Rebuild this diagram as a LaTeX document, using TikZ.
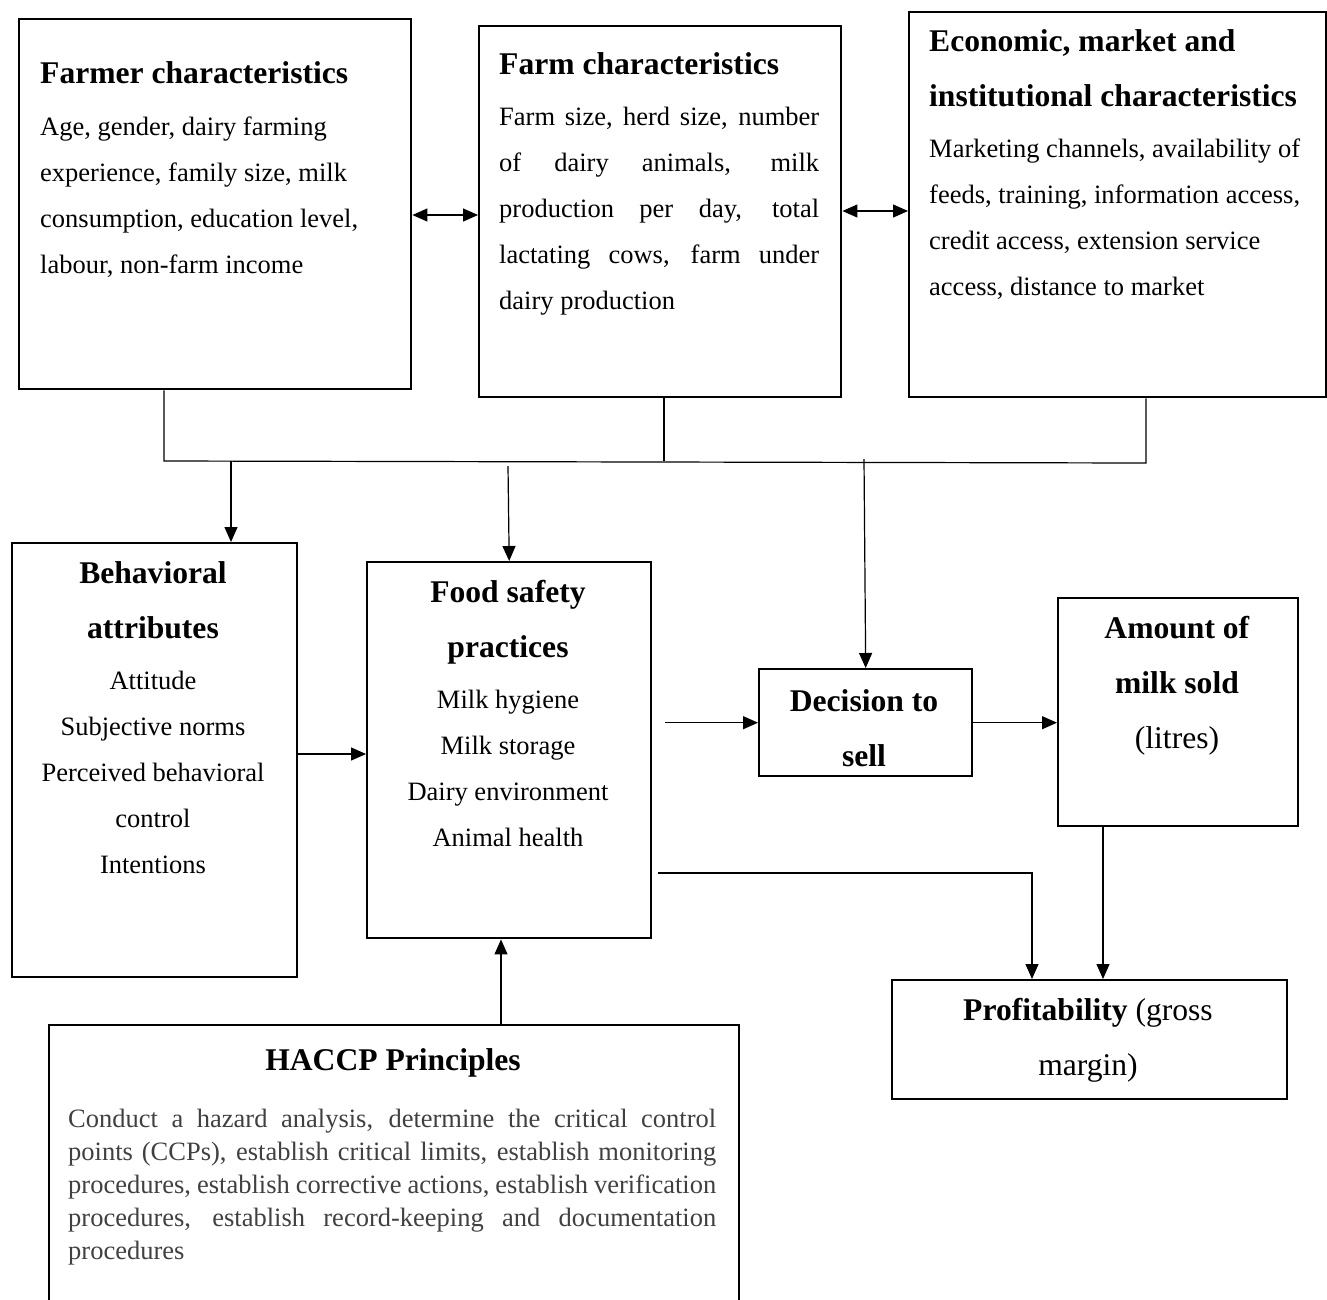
\documentclass[tikz,border=0pt]{standalone}
\usepackage{fontspec}
\setmainfont{Liberation Serif}
\usepackage{tikz}
\usetikzlibrary{arrows.meta,positioning,calc}
\definecolor{haccpc}{HTML}{404040}
\newcommand{\ttlfont}{\fontsize{31.6}{55}\selectfont\bfseries}
\newcommand{\bodyfont}{\fontsize{26.5}{46}\selectfont}
\newcommand{\bigfont}{\fontsize{31.6}{55}\selectfont}
\newcommand{\jst}[1]{{\spaceskip=0pt\makebox[\hsize][s]{#1}}}
\tikzset{
  box/.style={draw,line width=2.4pt,inner sep=0pt,anchor=north west},
  plain/.style={inner sep=0pt,execute at begin node={\spaceskip=\fontdimen2\font\xspaceskip=0pt}},
  ttl/.style={plain,font=\ttlfont},
  txt/.style={plain,font=\bodyfont},
  ln/.style={line width=1.2pt},
  ar/.style={-{Triangle[length=15pt,width=13pt]},line width=1.2pt},
  dar/.style={{Triangle[length=15pt,width=13pt]}-{Triangle[length=15pt,width=13pt]},line width=1.2pt}
}

\begin{document}
\begin{tikzpicture}[x=1pt,y=-1pt]
\path[use as bounding box,clip] (0,0) rectangle (1327,1299);
% boxes
\node[box,minimum width=392pt,minimum height=370pt] (farmer) at (18,18) {};
\node[box,minimum width=362pt,minimum height=371pt] (farm) at (478,25) {};
\node[box,minimum width=417pt,minimum height=385pt] (econ) at (908,11) {};
\node[box,minimum width=285pt,minimum height=434pt] (behav) at (11,542) {};
\node[box,minimum width=284pt,minimum height=376pt] (food) at (366,561) {};
\node[box,minimum width=213pt,minimum height=107pt] (decide) at (758,668) {};
\node[box,minimum width=240pt,minimum height=228pt] (amount) at (1057,597) {};
\node[box,minimum width=395pt,minimum height=119pt] (profit) at (891,979) {};
\node[box,minimum width=690pt,minimum height=300pt] (haccp) at (48,1024) {};
% texts
\node[ttl,anchor=base west] (farmerT) at (40,83) {Farmer characteristics};
\node[txt,anchor=base west,text width=340pt,align=left] (farmerB) at (40,135)
  {Age, gender, dairy farming\\experience, family size, milk\\consumption, education level,\\labour, non-farm income};
\node[ttl,anchor=base west] (farmT) at (499,74) {Farm characteristics};
\node[txt,anchor=base west,text width=320pt,align=left] (farmB) at (499,125)
  {\jst{Farm size, herd size, number}\\\jst{of dairy animals, milk}\\\jst{production per day, total}\\\jst{lactating cows, farm under}\\dairy production};
\node[ttl,anchor=base west,text width=390pt,align=left] (econT) at (929,51)
  {Economic, market and\\institutional characteristics};
\node[txt,anchor=base west,text width=385pt,align=left] (econB) at (929,157)
  {Marketing channels, availability of\\feeds, training, information access,\\credit access, extension service\\access, distance to market};
\node[ttl,anchor=base,text width=270pt,align=center] (behavT) at (153,583) {Behavioral\\attributes};
\node[txt,anchor=base,text width=270pt,align=center] (behavB) at (153,689)
  {Attitude\\Subjective norms\\Perceived behavioral\\control\\Intentions};
\node[ttl,anchor=base,text width=270pt,align=center] (foodT) at (508,602) {Food safety\\practices};
\node[txt,anchor=base,text width=270pt,align=center] (foodB) at (508,708)
  {Milk hygiene\\Milk storage\\Dairy environment\\Animal health};
\node[ttl,anchor=base,text width=200pt,align=center] (decideT) at (864,711) {Decision to\\sell};
\node[plain,font=\bigfont,anchor=base,text width=230pt,align=center] (amountT) at (1177,638)
  {\textbf{Amount of}\\\textbf{milk sold}\\(litres)};
\node[plain,font=\bigfont,anchor=base,text width=380pt,align=center] (profitT) at (1088,1020)
  {\textbf{Profitability} (gross\\margin)};
\node[ttl,anchor=base] (haccpT) at (393,1070) {HACCP Principles};
\node[plain,font=\fontsize{26.5}{33}\selectfont,text=haccpc,anchor=base west,text width=648pt,align=left] (haccpB) at (68,1127)
  {\jst{Conduct a hazard analysis, determine the critical control}\\\jst{points (CCPs), establish critical limits, establish monitoring}\\\jst{procedures, establish corrective actions, establish verification}\\\jst{procedures, establish record-keeping and documentation}\\procedures};
% connectors
\coordinate (busL) at (164,461);
\coordinate (busM) at (664,461);
\coordinate (busR) at (1146,463);
\draw[ln] (farmer.south -| busL) -- (busL) -- (busR) -- (econ.south -| busR);
\draw[ln] (farm.south -| busM) -- (busM);
\coordinate (tapA) at (231,461);
\coordinate (tapB) at (508,466);
\coordinate (tapC) at (864,459);
\draw[ar] (tapA) -- (tapA |- behav.north);
\draw[ar] (tapB) -- (food.north);
\draw[ar] (tapC) -- (decide.north);
\draw[dar] (farmer.east |- 0,215) -- (farm.west |- 0,215);
\draw[dar] (farm.east |- 0,211) -- (econ.west |- 0,211);
\draw[ar] (behav.east |- 0,754) -- (food.west |- 0,754);
\draw[ar,shorten <=13pt] (food.east |- decide.west) -- (decide.west);
\draw[ar] (decide.east) -- (amount.west |- decide.east);
\draw[ar] (amount.south -| 1103,0) -- (profit.north -| 1103,0);
\draw[ar,shorten <=6pt] (food.east |- 0,873) -| (profit.north -| 1032,0);
\draw[ar] (haccp.north -| 501,0) -- (food.south -| 501,0);
\end{tikzpicture}
\end{document}
